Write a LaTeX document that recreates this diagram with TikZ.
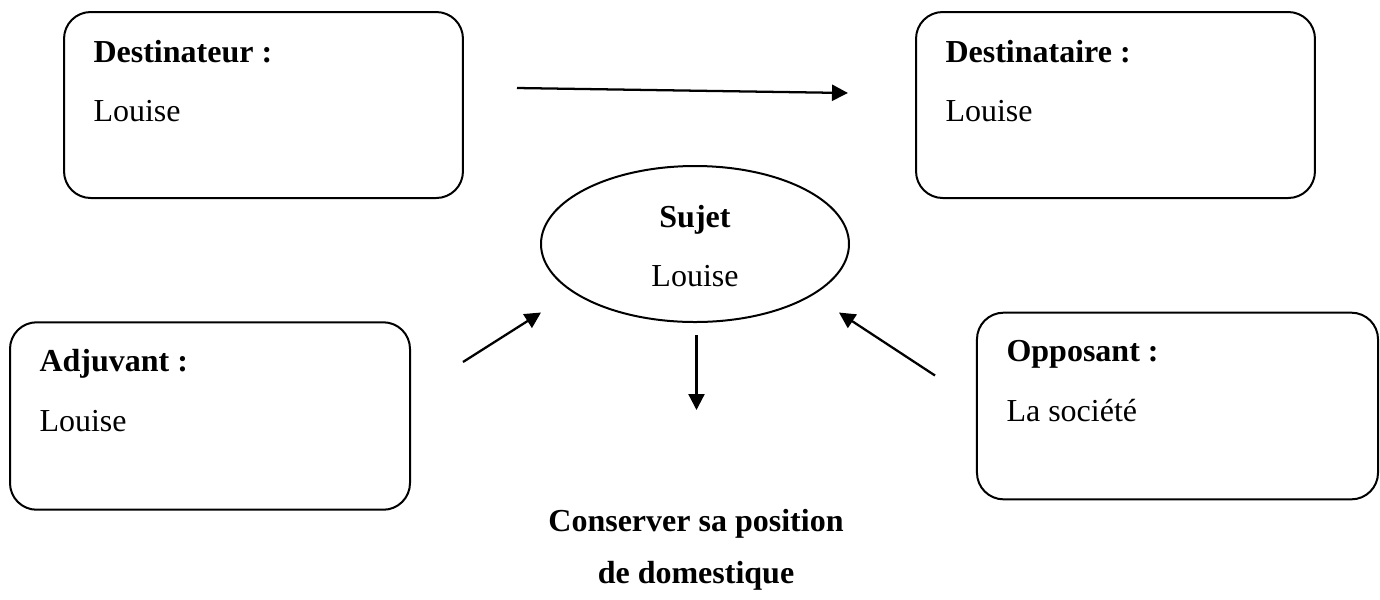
\documentclass[tikz,border=0pt]{standalone}
\usepackage{fontspec}
\setmainfont{Liberation Serif}
\usetikzlibrary{arrows.meta,shapes.geometric}
\tikzset{
  boxstyle/.style={draw, line width=0.75pt, rounded corners=10pt, minimum width=#1, inner sep=0pt},
  boxstyle/.default=149.6pt,
  ovalstyle/.style={draw, ellipse, line width=0.75pt, minimum width=115.5pt, minimum height=58.5pt, inner sep=0pt},
  lbl/.style={anchor=base west, inner sep=0pt, font=\fontsize{12}{14}\selectfont\bfseries},
  txt/.style={anchor=base west, inner sep=0pt, font=\fontsize{12}{14}\selectfont},
  clbl/.style={anchor=base, inner sep=0pt, font=\fontsize{12}{14}\selectfont\bfseries},
  ctxt/.style={anchor=base, inner sep=0pt, font=\fontsize{12}{14}\selectfont},
  arr/.style={line width=0.85pt, -{Triangle[length=6pt,width=6pt]}}
}
\begin{document}
\begin{tikzpicture}[x=0.375pt,y=-0.375pt]
\useasboundingbox (0,0) rectangle (1380,599);
% boxes
\node[boxstyle, minimum height=69.75pt] (dest) at (263.5,105) {};
\node[boxstyle, minimum height=69.75pt] (desta) at (1115.5,105) {};
\node[boxstyle=150pt, minimum height=70.3pt] (adj) at (210,416) {};
\node[boxstyle=150.4pt, minimum height=70pt] (opp) at (1177.5,406) {};
\node[ovalstyle] (suj) at (695,244) {};
% texts
\node[lbl] (t1) at (93,62) {Destinateur :};
\node[txt] (t2) at (93,121.5) {Louise};
\node[lbl] (t3) at (945,62) {Destinataire :};
\node[txt] (t4) at (945,121.5) {Louise};
\node[clbl] (t5) at (695,227) {Sujet};
\node[ctxt] (t6) at (695,286) {Louise};
\node[lbl] (t7) at (39,371.5) {Adjuvant :};
\node[txt] (t8) at (39,431.5) {Louise};
\node[lbl] (t9) at (1006,361.5) {Opposant :};
\node[txt] (t10) at (1006,421.5) {La société};
\node[clbl] (t11) at (696,531.5) {Conserver sa position};
\node[clbl] (t12) at (696,583.5) {de domestique};
% arrows
\coordinate (a1s) at (517,88);
\coordinate (a1e) at (848,93);
\coordinate (a2s) at (463,362);
\coordinate (a2e) at (541,312.5);
\coordinate (a3s) at (935,375.5);
\coordinate (a3e) at (839,312.5);
\coordinate (a4s) at (696.5,335);
\coordinate (a4e) at (696.5,410);
\draw[arr] (a1s) -- (a1e);
\draw[arr] (a2s) -- (a2e);
\draw[arr] (a3s) -- (a3e);
\draw[arr] (a4s) -- (a4e);
\end{tikzpicture}
\end{document}
